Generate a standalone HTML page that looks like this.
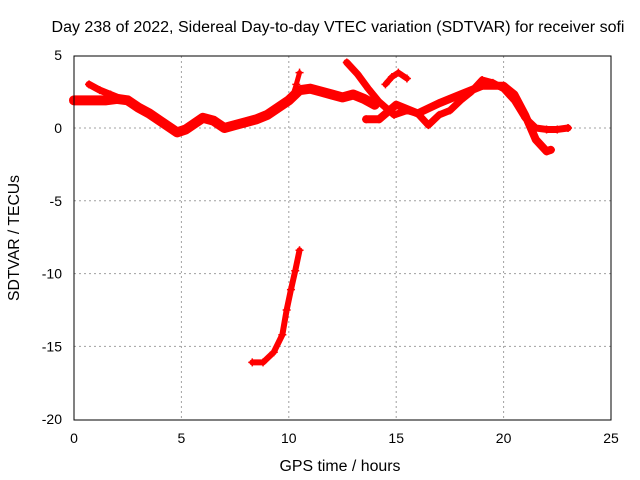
<!DOCTYPE html>
<html><head><meta charset="utf-8"><style>
body{margin:0;background:#fff;}
svg{display:block;font-family:"Liberation Sans",sans-serif;}
</style></head><body>
<svg id="chart" width="640" height="480">
<text x="338" y="32" font-size="15.5" text-anchor="middle" textLength="573" lengthAdjust="spacingAndGlyphs">Day 238 of 2022, Sidereal Day-to-day VTEC variation (SDTVAR) for receiver sofi</text>
<text x="340" y="471" font-size="15.5" text-anchor="middle" textLength="121" lengthAdjust="spacingAndGlyphs">GPS time / hours</text>
<text transform="translate(19,238) rotate(-90)" font-size="15.5" text-anchor="middle" textLength="126" lengthAdjust="spacingAndGlyphs">SDTVAR / TECUs</text>
<g id="grid"></g><g id="ticks"></g><g id="marks"></g>
<rect x="74" y="56" width="537" height="364" fill="none" stroke="#000" stroke-width="1"/>
</svg>
<script>
const xTicks=[0,5,10,15,20,25];
const yTicks=[5,0,-5,-10,-15,-20];
const mainT=[0,0.5,1,1.5,2,2.5,3,3.5,4,4.5,4.8,5.2,5.5,6,6.5,7,7.5,8,8.5,9,9.5,10,10.5,11,11.5,12,12.5,13,13.5,14];
const mainV=[1.9,1.9,1.9,1.9,2.0,1.9,1.4,1.0,0.5,0,-0.3,-0.1,0.2,0.7,0.5,0,0.2,0.4,0.6,0.9,1.4,1.9,2.6,2.7,2.5,2.3,2.1,2.3,2.0,1.6];
const upperT=[0.7,1.2,1.7,2.2];
const upperV=[3.0,2.6,2.3,2.0];
const steepT=[12.7,13.2,13.7,14.2,14.9,15.5,16,16.5,17,17.5,18,18.5,19,19.5,20,20.5,21,21.5,22,22.5,23];
const steepV=[4.5,3.7,2.7,1.8,0.9,1.2,1.0,0.2,0.9,1.2,1.9,2.5,3.3,3.1,2.7,1.9,0.7,0,-0.1,-0.1,0];
const lowBandT=[13.6,14.2,15,16,17,18,19,20,20.5,21,21.5,22,22.2];
const lowBandV=[0.6,0.6,1.6,1.0,1.7,2.3,2.9,2.9,2.3,0.9,-0.8,-1.6,-1.5];
const smallT=[14.5,14.8,15.1,15.5];
const smallV=[3.0,3.5,3.8,3.4];
const spikeT=[10.2,10.35,10.5];
const spikeV=[2.3,3.0,3.8];
const dropT=[8.3,8.8,9.3,9.7,9.9,10.1,10.3,10.5];
const dropV=[-16.1,-16.1,-15.4,-14.2,-12.5,-11.1,-9.8,-8.4];

const NS="http://www.w3.org/2000/svg";
function xs(t){return 74+t*537/25;}
function ys(v){return 128-v*364/25;}
function mk(tag,attrs,parent){const e=document.createElementNS(NS,tag);for(const k in attrs)e.setAttribute(k,attrs[k]);parent.appendChild(e);return e;}
const grid=document.getElementById('grid'),ticks=document.getElementById('ticks'),marks=document.getElementById('marks');
xTicks.forEach(t=>{
  if(t>0&&t<25){const g=mk('line',{x1:xs(t),x2:xs(t),y1:56,y2:420,stroke:'#a0a0a0','stroke-dasharray':'2,3'},grid);
  
  }
  const l=mk('text',{x:xs(t),y:443,'font-size':14,'text-anchor':'middle'},ticks);l.textContent=t;
  
  
});
yTicks.forEach(v=>{
  if(v<5&&v>-20){const g=mk('line',{x1:74,x2:611,y1:ys(v),y2:ys(v),stroke:'#a0a0a0','stroke-dasharray':'2,3'},grid);
  
  }
  const l=mk('text',{x:62,y:ys(v)+5,'font-size':14,'text-anchor':'end'},ticks);l.textContent=v;
  
  
});
function series(T,V,name,w){
  const pts=T.map((t,i)=>xs(t)+','+ys(V[i])).join(' ');
  const p=mk('polyline',{points:pts,fill:'none',stroke:'#f00','stroke-width':w,'stroke-linejoin':'round','stroke-linecap':'round'},marks);
  
  
  T.forEach((t,i)=>{const x=xs(t),y=ys(V[i]);
    const m=mk('path',{d:`M${x-4},${y}H${x+4}M${x},${y-4}V${y+4}`,stroke:'#f00','stroke-width':1.5},marks);
    
    });
}
series(mainT,mainV,'main-band',10);
series(upperT,upperV,'upper-band',7);
series(steepT,steepV,'descending-track',7);
series(lowBandT,lowBandV,'lower-band',8);
series(smallT,smallV,'small-segment',6);
series(spikeT,spikeV,'spike-segment',5);
series(dropT,dropV,'dropout-track',6);
</script>
</body></html>
